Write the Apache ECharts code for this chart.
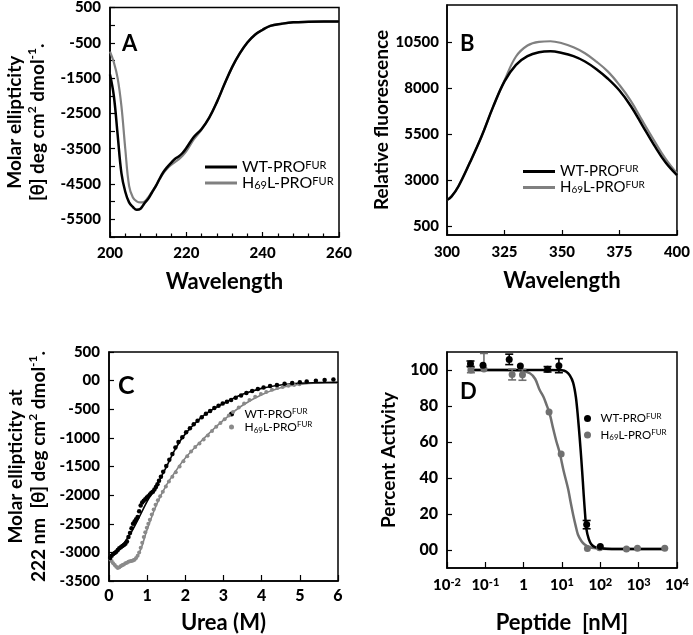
<!DOCTYPE html>
<html>
<head>
<meta charset="utf-8">
<title>PRO-FUR panels</title>
<script src="https://cdn.jsdelivr.net/npm/echarts/dist/echarts.min.js"></script>
<style>
  html, body { margin: 0; padding: 0; background: #fff; }
  #chart { width: 693px; height: 635px; }
</style>
</head>
<body>
<div id="chart"></div>
<script>
// ---- panel A: far-UV CD spectra ----
const cdWave = [200, 201, 202, 203, 204, 205, 206, 207, 208, 209, 210, 211, 212, 213, 214, 215, 216, 217, 218, 219, 220, 222, 224, 226, 228, 230, 232, 234, 236, 238, 240, 242, 245, 248, 252, 256, 260];
const cdWT = [-1400, -2000, -3100, -4200, -4720, -5020, -5150, -5230, -5200, -5050, -4920, -4740, -4560, -4350, -4160, -4020, -3900, -3790, -3720, -3620, -3480, -3160, -2940, -2620, -2180, -1670, -1190, -800, -490, -270, -130, -20, 40, 80, 95, 100, 100];
const cdH69L = [-750, -1050, -1500, -2300, -3500, -4550, -4880, -4990, -5020, -5000, -4880, -4720, -4560, -4360, -4190, -4060, -3960, -3880, -3800, -3700, -3570, -3230, -2960, -2620, -2180, -1670, -1190, -800, -490, -270, -130, -20, 40, 80, 95, 100, 100];

// ---- panel B: intrinsic fluorescence ----
const flWave = [300, 302, 305, 310, 315, 320, 325, 330, 335, 340, 345, 350, 355, 360, 365, 370, 375, 380, 385, 390, 395, 400];
const flWT = [1900, 2100, 2650, 3950, 5350, 6950, 8350, 9250, 9720, 9930, 9980, 9890, 9720, 9430, 9010, 8490, 7850, 7000, 5950, 4900, 3950, 3250];
const flH69L = [1900, 2100, 2650, 3950, 5350, 6950, 8400, 9700, 10300, 10500, 10530, 10420, 10200, 9880, 9420, 8880, 8150, 7280, 6200, 5150, 4150, 3350];

// ---- panel C: urea denaturation at 222 nm ----
const ureaWT = [0.03, 0.07, 0.11, 0.15, 0.19, 0.23, 0.27, 0.31, 0.35, 0.39, 0.43, 0.47, 0.51, 0.55, 0.59, 0.63, 0.67, 0.71, 0.75, 0.79, 0.83, 0.87, 0.91, 0.95, 0.99, 1.03, 1.07, 1.11, 1.15, 1.19, 1.23, 1.27, 1.31, 1.36, 1.42, 1.5, 1.58, 1.66, 1.74, 1.82, 1.92, 2.02, 2.12, 2.22, 2.32, 2.43, 2.54, 2.65, 2.76, 2.87, 2.98, 3.09, 3.2, 3.32, 3.46, 3.6, 3.75, 3.9, 4.05, 4.22, 4.4, 4.6, 4.8, 5.0, 5.18, 5.42, 5.65, 5.88];
const ellWT = [-3100, -3060, -3030, -3010, -2990, -2960, -2930, -2910, -2890, -2870, -2850, -2810, -2730, -2660, -2580, -2500, -2460, -2420, -2380, -2280, -2180, -2130, -2100, -2070, -2040, -2020, -1990, -1960, -1940, -1900, -1860, -1810, -1750, -1680, -1590, -1490, -1380, -1280, -1170, -1070, -990, -900, -830, -760, -700, -640, -580, -530, -480, -440, -400, -370, -340, -300, -260, -215, -180, -145, -120, -95, -75, -55, -40, -30, -15, 0, 10, 20];
const ureaH69L = [0.03, 0.07, 0.11, 0.15, 0.19, 0.23, 0.27, 0.31, 0.35, 0.39, 0.43, 0.47, 0.51, 0.55, 0.59, 0.63, 0.67, 0.71, 0.75, 0.79, 0.83, 0.87, 0.91, 0.95, 0.99, 1.03, 1.07, 1.12, 1.17, 1.22, 1.28, 1.34, 1.41, 1.49, 1.57, 1.66, 1.75, 1.85, 1.95, 2.05, 2.15, 2.26, 2.37, 2.48, 2.59, 2.7, 2.81, 2.92, 3.03, 3.14, 3.25, 3.4, 3.54, 3.68, 3.83, 3.98, 4.12, 4.27, 4.41, 4.55, 4.7, 4.85, 4.99];
const ellH69L = [-3110, -3150, -3190, -3220, -3250, -3275, -3260, -3240, -3220, -3210, -3190, -3180, -3165, -3155, -3150, -3140, -3130, -3100, -3060, -3000, -2920, -2830, -2730, -2650, -2570, -2500, -2430, -2340, -2250, -2170, -2090, -2020, -1940, -1850, -1760, -1680, -1600, -1500, -1410, -1320, -1240, -1160, -1100, -1030, -960, -880, -805, -740, -675, -610, -550, -470, -400, -340, -280, -235, -197, -160, -130, -110, -90, -75, -63];
const fitUrea = [0, 0.25, 0.5, 0.75, 1, 1.25, 1.5, 1.75, 2, 2.5, 3, 3.5, 4, 4.5, 5, 5.5, 6];
const fitWT = [-3090, -2950, -2740, -2440, -2110, -1830, -1510, -1180, -930, -600, -400, -240, -135, -75, -45, -35, -30];
const fitH69L = [-3110, -3270, -3160, -3060, -2600, -2160, -1830, -1580, -1350, -1000, -690, -430, -245, -125, -65, -40, -35];

// ---- panel D: furin inhibition ----
const pepWT = [0.041, 0.087, 0.42, 0.82, 4.2, 8.3, 44, 100];
const actWT = [103.5, 102.7, 105.9, 102.2, 100.4, 102.4, 14.1, 2];
const errWTLo = [1.5, 0, 2.9, 0, 1.5, 3.9, 2.3, 0];
const errWTHi = [1.5, 0, 2.9, 0, 1.5, 3.9, 2.3, 0];
const pepH69L = [0.042, 0.092, 0.5, 0.93, 4.6, 9.5, 46, 96, 480, 930, 4800];
const actH69L = [100, 100.5, 97.5, 97.3, 76.6, 53.4, 0.8, 1.2, 0.5, 1.0, 1.0];
const errH69LLo = [1.5, 0, 3, 3, 0, 0, 0, 0, 0, 0, 0];
const errH69LHi = [1.5, 8.7, 3, 3, 0, 0, 0, 0, 0, 0, 0];
const curveWTx = [0.04, 1, 5, 10, 13, 16, 19.5, 23, 26, 29, 32, 35, 37, 40, 43, 50, 59, 75, 100, 200, 1000, 5000];
const curveWTy = [100, 100, 100, 99.8, 99, 97, 93, 85, 74, 62, 50, 38, 30, 20, 12, 6, 3, 1.5, 1, 0.6, 0.5, 0.5];
const curveH69Lx = [0.04, 0.3, 0.8, 1.45, 2, 2.6, 3.3, 3.9, 4.8, 5.8, 7, 8.7, 11, 14.4, 17, 19.6, 23, 26, 32, 39, 50, 76, 150, 1000, 5000];
const curveH69Ly = [100, 100, 99.7, 98.2, 95, 89, 85, 81, 75.5, 68, 61, 54, 44, 34, 26, 19.5, 13, 8.6, 5, 3, 1.7, 1, 0.6, 0.5, 0.5];

// tick labels
const aYLabels = [500, -500, -1500, -2500, -3500, -4500, -5500];
const bYLabels = [500, 3000, 5500, 8000, 10500];
const dYLabels = [0, 20, 40, 60, 80, 100];

const FONT = 'Lato, "Noto Sans", sans-serif';
const GRAY = '#808080';
const zip = (xs, ys) => xs.map((x, i) => [x, ys[i]]);
const plain = v => String(v);
const zeroZero = v => v === 0 ? '00' : String(v);

const chart = echarts.init(document.getElementById('chart'));

// shared axis pieces
const axLine = { show: true, onZero: false, lineStyle: { color: '#000', width: 1.5 } };
const tickStyle = { color: '#000', width: 1.2 };
const lblStyle = { color: '#000', fontFamily: FONT, fontWeight: 900, fontSize: 15 };
const xName = { color: '#000', fontFamily: FONT, fontWeight: 'bold', fontSize: 22 };
const yRich = {
  n: { fontFamily: FONT, fontWeight: 'bold', fontSize: 19, lineHeight: 23, color: '#000' },
  s: { fontFamily: FONT, fontWeight: 'bold', fontSize: 12, lineHeight: 12, verticalAlign: 'top', color: '#000' }
};

// legend label: superscript FUR, subscript 69
const legendText = name => name.endsWith('WT') ? '{t|WT-PRO}{s|FUR}' : '{t|H}{b|69}{t|L-PRO}{s|FUR}';
const legendRich = (fs, lh) => ({
  t: { fontFamily: FONT, fontSize: fs, lineHeight: lh, color: '#000' },
  s: { fontFamily: FONT, fontSize: Math.round(fs * 0.66), lineHeight: Math.round(fs * 0.66), verticalAlign: 'top', color: '#000' },
  b: { fontFamily: FONT, fontSize: Math.round(fs * 0.66), lineHeight: Math.round(fs * 0.66), verticalAlign: 'bottom', color: '#000' }
});

// error bars for panel D
const errorBars = (name, xs, ys, lo, hi, color) => ({
  type: 'custom',
  name,
  xAxisIndex: 3,
  yAxisIndex: 3,
  z: 4,
  encode: { x: 0, y: [1, 2] },
  data: xs.map((x, i) => [x, ys[i] - lo[i], ys[i] + hi[i], lo[i], hi[i]]),
  renderItem: (params, api) => {
    const x = api.value(0);
    const p0 = api.coord([x, api.value(1)]);
    const p1 = api.coord([x, api.value(2)]);
    const style = { stroke: color, lineWidth: 1.6, fill: null };
    const kids = [{ type: 'line', shape: { x1: p0[0], y1: p0[1], x2: p1[0], y2: p1[1] }, style }];
    if (api.value(3) > 0) kids.push({ type: 'line', shape: { x1: p0[0] - 4, y1: p0[1], x2: p0[0] + 4, y2: p0[1] }, style });
    if (api.value(4) > 0) kids.push({ type: 'line', shape: { x1: p1[0] - 4, y1: p1[1], x2: p1[0] + 4, y2: p1[1] }, style });
    return { type: 'group', children: kids };
  }
});

const panelLetter = (txt, left, top, size) => ({
  type: 'text', left, top,
  style: { text: txt, font: 'bold ' + size + 'px ' + FONT, fill: '#000' }
});

const option = {
  animation: false,
  backgroundColor: '#fff',
  grid: [
    { left: 110, top: 7, width: 229, height: 230, show: true, borderColor: '#000', borderWidth: 1.5 },
    { left: 447, top: 5, width: 230, height: 230, show: true, borderColor: '#000', borderWidth: 1.5 },
    { left: 109, top: 352, width: 229, height: 229, show: true, borderColor: '#000', borderWidth: 1.5 },
    { left: 447, top: 352, width: 230, height: 218, show: true, borderColor: '#000', borderWidth: 1.5 }
  ],
  xAxis: [
    {
      gridIndex: 0, type: 'value', min: 200, max: 260, interval: 20,
      axisLine: axLine, splitLine: { show: false },
      axisTick: { inside: true, length: 5, lineStyle: tickStyle },
      minorTick: { show: true, splitNumber: 5, length: 3.5, lineStyle: tickStyle },
      axisLabel: { ...lblStyle, margin: 9, formatter: plain },
      name: 'Wavelength', nameLocation: 'middle', nameGap: 34, nameTextStyle: xName
    },
    {
      gridIndex: 1, type: 'value', min: 300, max: 400, interval: 25,
      axisLine: axLine, splitLine: { show: false },
      axisTick: { inside: true, length: 5, lineStyle: tickStyle },
      axisLabel: { ...lblStyle, margin: 10, formatter: plain },
      name: 'Wavelength', nameLocation: 'middle', nameGap: 35, nameTextStyle: xName
    },
    {
      gridIndex: 2, type: 'value', min: 0, max: 6, interval: 1,
      axisLine: axLine, splitLine: { show: false },
      axisTick: { inside: true, length: 6, lineStyle: tickStyle },
      axisLabel: { ...lblStyle, fontSize: 16, margin: 7, formatter: plain },
      name: 'Urea (M)', nameLocation: 'middle', nameGap: 31, nameTextStyle: xName
    },
    {
      gridIndex: 3, type: 'log', logBase: 10, min: 0.01, max: 10000,
      axisLine: axLine, splitLine: { show: false },
      axisTick: { inside: true, length: 6, lineStyle: tickStyle },
      axisLabel: {
        ...lblStyle, margin: 9, lineHeight: 17,
        formatter: v => {
          const e = Math.round(Math.log10(v));
          return e === 0 ? '1' : '10{s|' + e + '}';
        },
        rich: { s: { fontFamily: FONT, fontWeight: 900, fontSize: 11, lineHeight: 11, verticalAlign: 'top', color: '#000' } }
      },
      name: 'Peptide  [nM]', nameLocation: 'middle', nameGap: 44, nameTextStyle: xName
    }
  ],
  yAxis: [
    {
      gridIndex: 0, type: 'value', min: -6000, max: 500, interval: 500,
      axisLine: axLine, splitLine: { show: false },
      axisTick: { inside: true, length: 5, lineStyle: tickStyle },
      axisLabel: { ...lblStyle, margin: 9, customValues: aYLabels, formatter: plain },
      name: '{n|Molar ellipticity}\n{n|[θ] deg cm}{s|2}{n| dmol}{s|-1}{n|.}',
      nameLocation: 'middle', nameRotate: 90, nameGap: 61,
      nameTextStyle: { rich: yRich }
    },
    {
      gridIndex: 1, type: 'value', min: 0, max: 12500,
      axisLine: axLine, splitLine: { show: false },
      axisTick: { inside: true, length: 5, lineStyle: tickStyle, customValues: bYLabels },
      axisLabel: { ...lblStyle, margin: 8, customValues: bYLabels, formatter: plain },
      name: '{n|Relative fluorescence}',
      nameLocation: 'middle', nameRotate: 90, nameGap: 54,
      nameTextStyle: { rich: yRich }
    },
    {
      gridIndex: 2, type: 'value', min: -3500, max: 500, interval: 500,
      axisLine: axLine, splitLine: { show: false },
      axisTick: { inside: true, length: 5, lineStyle: tickStyle },
      axisLabel: { ...lblStyle, margin: 9, formatter: zeroZero },
      name: '{n|Molar ellipticity at}\n{n|222 nm  [θ] deg cm}{s|2}{n| dmol}{s|-1}{n|.}',
      nameLocation: 'middle', nameRotate: 90, nameGap: 59,
      nameTextStyle: { rich: yRich }
    },
    {
      gridIndex: 3, type: 'value', min: -10, max: 110,
      axisLine: axLine, splitLine: { show: false },
      axisTick: { inside: true, length: 5, lineStyle: tickStyle, customValues: dYLabels },
      axisLabel: { ...lblStyle, fontSize: 16, margin: 9, customValues: dYLabels, formatter: zeroZero },
      name: '{n|Percent Activity}',
      nameLocation: 'middle', nameRotate: 90, nameGap: 47,
      nameTextStyle: { rich: yRich }
    }
  ],
  legend: [
    {
      left: 205, top: 159, orient: 'vertical', padding: 0, itemGap: 0,
      icon: 'rect', itemWidth: 32, itemHeight: 3,
      data: ['A_WT', 'A_H69L'], formatter: legendText,
      textStyle: { rich: legendRich(16, 15) }, selectedMode: false
    },
    {
      left: 523, top: 164, orient: 'vertical', padding: 0, itemGap: 1,
      icon: 'rect', itemWidth: 32, itemHeight: 3,
      data: ['B_WT', 'B_H69L'], formatter: legendText,
      textStyle: { rich: legendRich(15, 15) }, selectedMode: false
    },
    {
      left: 229, top: 407, orient: 'vertical', padding: 0, itemGap: 0,
      icon: 'circle', itemWidth: 16, itemHeight: 5,
      data: ['C_WT', 'C_H69L'], formatter: legendText,
      textStyle: { rich: legendRich(12, 14) }, selectedMode: false
    },
    {
      left: 584, top: 412, orient: 'vertical', padding: 0, itemGap: 4,
      icon: 'circle', itemWidth: 16, itemHeight: 7,
      data: ['D_WT', 'D_H69L'], formatter: legendText,
      textStyle: { rich: legendRich(11.5, 13) }, selectedMode: false
    }
  ],
  graphic: [
    panelLetter('A', 122, 33, 22),
    panelLetter('B', 460, 33, 22),
    panelLetter('C', 118, 373, 25),
    panelLetter('D', 460, 381, 22)
  ],
  series: [
    // A
    { type: 'line', name: 'A_H69L', xAxisIndex: 0, yAxisIndex: 0, data: zip(cdWave, cdH69L), smooth: 0.4, showSymbol: false,
      lineStyle: { color: GRAY, width: 2.2 }, itemStyle: { color: GRAY }, z: 2 },
    { type: 'line', name: 'A_WT', xAxisIndex: 0, yAxisIndex: 0, data: zip(cdWave, cdWT), smooth: 0.4, showSymbol: false,
      lineStyle: { color: '#000', width: 2.5 }, itemStyle: { color: '#000' }, z: 3 },
    // B
    { type: 'line', name: 'B_H69L', xAxisIndex: 1, yAxisIndex: 1, data: zip(flWave, flH69L), smooth: 0.4, showSymbol: false,
      lineStyle: { color: GRAY, width: 2.2 }, itemStyle: { color: GRAY }, z: 2 },
    { type: 'line', name: 'B_WT', xAxisIndex: 1, yAxisIndex: 1, data: zip(flWave, flWT), smooth: 0.4, showSymbol: false,
      lineStyle: { color: '#000', width: 2.5 }, itemStyle: { color: '#000' }, z: 3 },
    // C
    { type: 'line', name: 'C_fitH69L', xAxisIndex: 2, yAxisIndex: 2, data: zip(fitUrea, fitH69L), smooth: 0.4, showSymbol: false,
      lineStyle: { color: GRAY, width: 1.6 }, z: 2 },
    { type: 'line', name: 'C_fitWT', xAxisIndex: 2, yAxisIndex: 2, data: zip(fitUrea, fitWT), smooth: 0.4, showSymbol: false,
      lineStyle: { color: '#000', width: 1.6 }, z: 3 },
    { type: 'scatter', name: 'C_H69L', xAxisIndex: 2, yAxisIndex: 2, data: zip(ureaH69L, ellH69L), symbolSize: 4,
      itemStyle: { color: '#8a8a8a', opacity: 1 }, z: 4 },
    { type: 'scatter', name: 'C_WT', xAxisIndex: 2, yAxisIndex: 2, data: zip(ureaWT, ellWT), symbolSize: 4.5,
      itemStyle: { color: '#000', opacity: 1 }, z: 5 },
    // D
    { type: 'line', name: 'D_fitH69L', xAxisIndex: 3, yAxisIndex: 3, data: zip(curveH69Lx, curveH69Ly), smooth: 0.3, showSymbol: false,
      lineStyle: { color: '#707070', width: 2.5 }, z: 2 },
    { type: 'line', name: 'D_fitWT', xAxisIndex: 3, yAxisIndex: 3, data: zip(curveWTx, curveWTy), smooth: 0.3, showSymbol: false,
      lineStyle: { color: '#000', width: 2.5 }, z: 3 },
    errorBars('D_errH69L', pepH69L, actH69L, errH69LLo, errH69LHi, '#707070'),
    errorBars('D_errWT', pepWT, actWT, errWTLo, errWTHi, '#000'),
    { type: 'scatter', name: 'D_H69L', xAxisIndex: 3, yAxisIndex: 3, data: zip(pepH69L, actH69L), symbolSize: 7,
      itemStyle: { color: '#707070', opacity: 1 }, z: 5 },
    { type: 'scatter', name: 'D_WT', xAxisIndex: 3, yAxisIndex: 3, data: zip(pepWT, actWT), symbolSize: 7,
      itemStyle: { color: '#000', opacity: 1 }, z: 6 }
  ]
};

chart.setOption(option);
</script>
</body>
</html>
